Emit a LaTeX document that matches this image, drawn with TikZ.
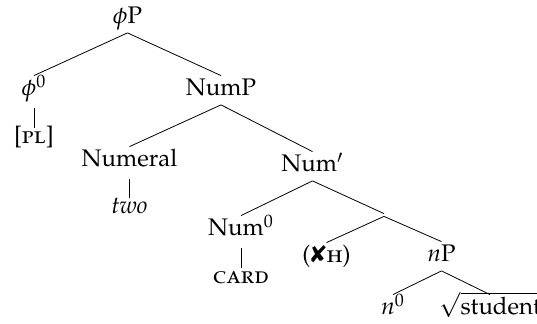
\documentclass[tikz,border=0pt]{standalone}
\usepackage[T1]{fontenc}
\usepackage[sc]{mathpazo}
\usepackage{amsmath}
\usepackage{pifont}
\usetikzlibrary{trees}

\begin{document}
\begin{tikzpicture}[
			font=\fontsize{12}{14.4}\selectfont,
			grow=down,
			growth parent anchor=base,
			every node/.style={anchor=base, inner sep=0pt, text height=10pt, text depth=4.25pt},
			edge from parent/.style={draw,-},
			edge from parent path={(\tikzparentnode.south) -- (\tikzchildnode.north)},
			level distance=36pt,
			level 1/.style={sibling distance=93.5pt},
			level 2/.style={sibling distance=91.5pt},
			level 3/.style={sibling distance=71.5pt},
			level 4/.style={sibling distance=57.5pt},
			level 5/.style={sibling distance=48.5pt},
			unary/.style={level distance=24pt,
				edge from parent path={([yshift=-1.75pt]\tikzparentnode.south) -- ([yshift=-2.3pt]\tikzchildnode.north)}},
			junction/.style={text height=0pt, text depth=0pt},
			]
			
			\useasboundingbox (-63.75pt,-150pt) rectangle (204.75pt,12pt);
			\node (phiP) {$\phi$P}
			child {
				node (phi0) {$\phi^0$}
				child[unary] { node (pl) {[\textsc{pl}]} }
			}
			child {
				node (numP) {NumP}
				child[level distance=35.5pt] {
					node (numeral) {Numeral}
					child[unary, level distance=23.5pt] { node (two) {\textit{two}} }
				}
				child[level distance=38pt] {
					node (numbar) {Num$'$}
					child[level distance=32pt] {
						node (num0) {Num$^0$}
						child[unary] { node (card) {\textsc{card}} }
					}
					child[level distance=21.5pt] {
						node[junction] (jct) {}
						child[level distance=24pt] { node (xh) {(\ding{56}\textsc{h})} }
						child[level distance=23.5pt] {
							node (nP) {$n$P}
							child[level distance=26.5pt] { node (n0) {$n^0$} }
							child[level distance=26.5pt] { node (student) {$\sqrt{\text{student}}$} }
						}
					}
				}
			};
			
		\end{tikzpicture}
\end{document}
